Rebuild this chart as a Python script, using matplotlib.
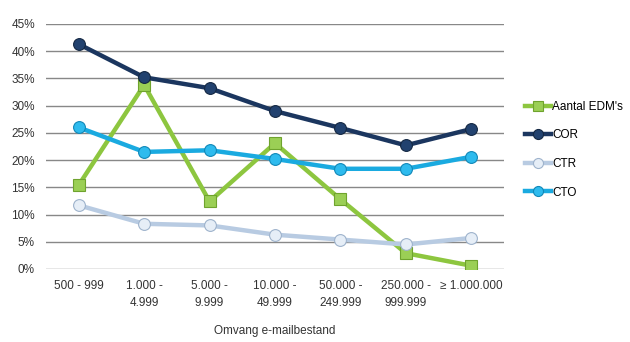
import matplotlib.pyplot as plt
import numpy as np

plt.rcParams['font.family'] = ['Liberation Sans', 'DejaVu Sans']

# data
categories = ['500 - 999', '1.000 -\n4.999', '5.000 -\n9.999', '10.000 -\n49.999',
              '50.000 -\n249.999', '250.000 -\n999.999', '\u2265 1.000.000']
edm = [15.4, 33.8, 12.4, 23.1, 12.8, 2.9, 0.6]
cor = [41.3, 35.2, 33.2, 29.0, 25.9, 22.7, 25.7]
ctr = [11.7, 8.3, 8.0, 6.3, 5.4, 4.5, 5.7]
cto = [26.0, 21.5, 21.8, 20.2, 18.4, 18.4, 20.6]
yticks = [0, 5, 10, 15, 20, 25, 30, 35, 40, 45]

fig = plt.figure(figsize=(6.3, 3.42), dpi=100)
ax = fig.add_axes([0.073, 0.2135, 0.727, 0.7165])
x = np.arange(len(categories))

ax.plot(x, edm, color='#8DC63F', lw=3.2, marker='s', ms=9, mfc='#9BCF55',
        mec='#6FA32E', mew=0.8, label="Aantal EDM's", zorder=3)
ax.plot(x, cor, color='#1B365F', lw=3.2, marker='o', ms=8.5, mfc='#22426F',
        mec='#142843', mew=0.8, label='COR', zorder=4)
ax.plot(x, ctr, color='#B8CBE2', lw=3.2, marker='o', ms=8.5, mfc='#E6EEF7',
        mec='#9EB3CC', mew=0.8, label='CTR', zorder=3)
ax.plot(x, cto, color='#1AAAE0', lw=3.2, marker='o', ms=8.5, mfc='#2EBBEE',
        mec='#1188B8', mew=0.8, label='CTO', zorder=3)

ax.set_xlim(-0.5, 6.5)
ax.set_ylim(0, 45)
ax.set_yticks(yticks)
ax.set_yticklabels([f'{v}%' for v in yticks], fontsize=8.5, color='#333333')
ax.set_xticks(x)
ax.set_xticklabels(categories, fontsize=8.5, color='#333333', linespacing=1.5)
ax.tick_params(length=0, pad=8)
ax.grid(axis='y', color='#888888', lw=1)
ax.set_axisbelow(True)
for s in ax.spines.values():
    s.set_visible(False)

ax.set_xlabel('Omvang e-mailbestand', fontsize=8.5, color='#333333', labelpad=12)

legend = ax.legend(loc='upper left', bbox_to_anchor=(1.035, 0.705), frameon=False,
                   fontsize=8.5, handlelength=2.2, handletextpad=0.1, labelspacing=1.4,
                   borderaxespad=0, markerscale=0.85)

plt.savefig('out.png', dpi=100)
